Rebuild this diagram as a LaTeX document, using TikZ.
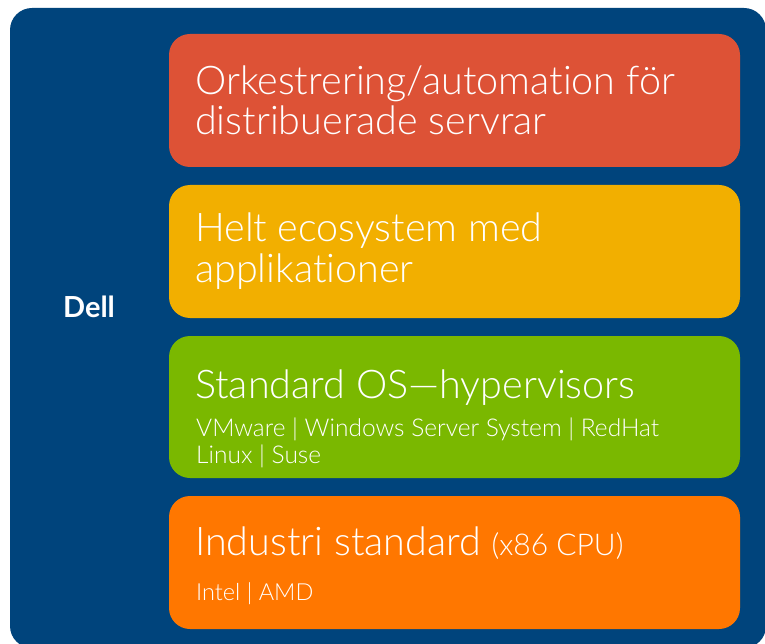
\documentclass[tikz,border=0pt]{standalone}
\usepackage{fontspec}
\setmainfont{Lato}[UprightFont={* Light},BoldFont={* Bold},Ligatures=NoCommon]
\definecolor{dellblue}{RGB}{0,68,124}
\definecolor{cred}{RGB}{221,82,54}
\definecolor{cyellow}{RGB}{242,175,0}
\definecolor{cgreen}{RGB}{122,184,0}
\definecolor{corange}{RGB}{255,119,0}
\begin{document}
\begin{tikzpicture}[x=1pt,y=-1pt,
  layer/.style={rounded corners=21pt},
  head/.style={anchor=base west,inner sep=0pt,text=white,align=left,
    font=\fontsize{39.5}{40}\selectfont},
  sub/.style={anchor=base west,inner sep=0pt,text=white,align=left,
    font=\fontsize{24.5}{27}\selectfont}]
\useasboundingbox (0,0) rectangle (765,644);
\fill[white] (0,0) rectangle (765,644);
\fill[dellblue,rounded corners=22pt] (10,8) rectangle (766,648);
\fill[cred,layer] (169,34) rectangle (740,167);
\fill[cyellow,layer] (169,185) rectangle (740,318);
\fill[cgreen,layer] (169,336) rectangle (740,478);
\fill[corange,layer] (169,496) rectangle (740,629);
\node[anchor=base,inner sep=0pt,text=white,font=\fontsize{29}{32}\selectfont\bfseries] (dell) at (89,317) {Dell};
\node[head] (orch) at (195,135) {Orkestrering/automation för\\distribuerade servrar};
\node[head] (eco) at (195,282) {Helt ecosystem med\\applikationer};
\node[head] (os) at (195,398) {Standard OS—hypervisors};
\node[sub] (osl) at (196,463) {VMware | Windows Server System | RedHat\\Linux | Suse};
\node[head] (ind) at (195,555) {Industri standard {\fontsize{30}{32}\selectfont(x86 CPU)}};
\node[sub,font=\fontsize{23.5}{26}\selectfont] (cpu) at (196,600) {Intel | AMD};
\end{tikzpicture}
\end{document}
